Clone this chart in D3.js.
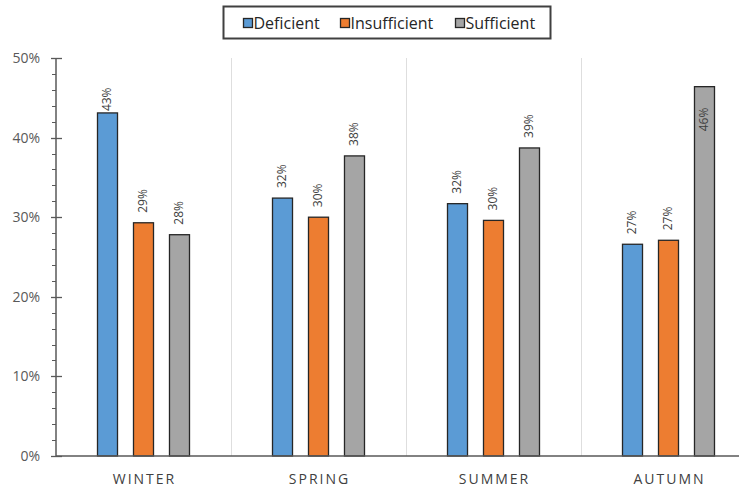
<!DOCTYPE html>
<html>
<head>
<meta charset="utf-8">
<script src="https://cdn.jsdelivr.net/npm/d3@7"></script>
<style>
  html, body { margin: 0; padding: 0; background: #fff; }
  svg { display: block; font-family: "Open Sans", sans-serif; }
</style>
</head>
<body>
<svg id="chart" width="739" height="490"></svg>
<script>
// Seasonal vitamin status shares
const seasons = ["WINTER", "SPRING", "SUMMER", "AUTUMN"];
const seriesNames = ["Deficient", "Insufficient", "Sufficient"];
const deficient = [0.431, 0.324, 0.317, 0.266];
const insufficient = [0.293, 0.300, 0.296, 0.271];
const sufficient = [0.278, 0.377, 0.387, 0.464];
const seriesColors = ["#5b9bd5", "#ed7d31", "#a5a5a5"];
const yTicks = [0, 0.1, 0.2, 0.3, 0.4, 0.5];

const seriesValues = [deficient, insufficient, sufficient];
const rows = seasons.map((s, i) => ({
  season: s,
  values: seriesNames.map((n, k) => ({ name: n, value: seriesValues[k][i], color: seriesColors[k] }))
}));

const svg = d3.select("#chart");
const margin = { left: 56, top: 58, bottom: 34 };
const width = 739, height = 490;
const plotBottom = height - margin.bottom;

const x0 = d3.scaleBand().domain(seasons).range([margin.left, margin.left + 4 * 175]).padding(0);
const x1 = d3.scaleBand().domain(seriesNames).range([-46, 46]).paddingInner(0.444).paddingOuter(0);
const y = d3.scaleLinear().domain([0, 0.5]).range([plotBottom, margin.top]);

// vertical separators between seasons
svg.append("g")
  .selectAll("line")
  .data(seasons.slice(1))
  .join("line")
  .attr("x1", d => x0(d) + 0.5).attr("x2", d => x0(d) + 0.5)
  .attr("y1", margin.top).attr("y2", plotBottom)
  .attr("stroke", "#dedede").attr("stroke-width", 1);

// bars
const groups = svg.append("g")
  .selectAll("g")
  .data(rows)
  .join("g")
  .attr("transform", d => `translate(${x0(d.season) + x0.bandwidth() / 2},0)`);

groups.selectAll("rect")
  .data(d => d.values)
  .join("rect")
  .attr("x", d => x1(d.name))
  .attr("y", d => y(d.value))
  .attr("width", x1.bandwidth())
  .attr("height", d => plotBottom - y(d.value))
  .attr("fill", d => d.color)
  .attr("stroke", "#262626")
  .attr("stroke-width", 1.3);

// value labels, rotated, above each bar (or inside when there is no room)
const labelTopLimit = y(0.463);
groups.selectAll("text.val")
  .data(d => d.values)
  .join("text")
  .attr("class", "val")
  .attr("font-size", 12)
  .attr("fill", "#404040")
  .attr("text-anchor", "start")
  .attr("dominant-baseline", "middle")
  .text(d => d3.format(".0%")(d.value))
  .each(function (d) {
    const len = this.getComputedTextLength();
    const barTop = y(d.value);
    let bottom = barTop - 10;
    if (bottom - len < labelTopLimit) {
      bottom = labelTopLimit + len;
      if (bottom > barTop + 4) bottom = barTop + 21 + len;
    }
    const cx = x1(d.name) + x1.bandwidth() / 2;
    d3.select(this).attr("transform", `translate(${cx},${bottom}) rotate(-90)`);
  });

// y axis
const axisColor = "#595959";
const yAxis = svg.append("g");
yAxis.append("line")
  .attr("x1", margin.left).attr("x2", margin.left)
  .attr("y1", margin.top).attr("y2", plotBottom)
  .attr("stroke", axisColor).attr("stroke-width", 1.5);
yAxis.selectAll("line.minor")
  .data(d3.range(0, 0.5001, 0.02))
  .join("line")
  .attr("class", "minor")
  .attr("x1", margin.left - 4).attr("x2", margin.left)
  .attr("y1", d => Math.round(y(d)) + 0.5).attr("y2", d => Math.round(y(d)) + 0.5)
  .attr("stroke", axisColor).attr("stroke-width", 1);
yAxis.selectAll("line.major")
  .data(yTicks)
  .join("line")
  .attr("class", "major")
  .attr("x1", margin.left - 5).attr("x2", margin.left + 6)
  .attr("y1", d => Math.round(y(d)) + 0.5).attr("y2", d => Math.round(y(d)) + 0.5)
  .attr("stroke", axisColor).attr("stroke-width", 1.3);
yAxis.selectAll("text")
  .data(yTicks)
  .join("text")
  .attr("x", 40)
  .attr("y", d => y(d))
  .attr("dy", "0.35em")
  .attr("text-anchor", "end")
  .attr("font-size", 14)
  .attr("fill", axisColor)
  .text(d => d3.format(".0%")(d));

// x axis
svg.append("line")
  .attr("x1", margin.left).attr("x2", width)
  .attr("y1", plotBottom).attr("y2", plotBottom)
  .attr("stroke", axisColor).attr("stroke-width", 1.5);
svg.append("g")
  .selectAll("text")
  .data(seasons)
  .join("text")
  .attr("x", d => x0(d) + x0.bandwidth() / 2 + 1)
  .attr("y", 484)
  .attr("text-anchor", "middle")
  .attr("font-size", 14)
  .attr("letter-spacing", 2)
  .attr("fill", "#404040")
  .text(d => d);

// legend
const legend = svg.append("g");
legend.append("rect")
  .attr("x", 223.5).attr("y", 6.5).attr("width", 327).attr("height", 32)
  .attr("fill", "#fff").attr("stroke", "#404040").attr("stroke-width", 2);
const legendX = [243, 340, 455];
const items = legend.selectAll("g")
  .data(seriesNames)
  .join("g")
  .attr("transform", (d, i) => `translate(${legendX[i]},0)`);
items.append("rect")
  .attr("x", 0.5).attr("y", 18.5).attr("width", 9).attr("height", 9)
  .attr("fill", (d, i) => seriesColors[i])
  .attr("stroke", "#262626").attr("stroke-width", 1.3);
items.append("text")
  .attr("x", 10.5).attr("y", 28.5)
  .attr("font-size", 16)
  .attr("fill", "#262626")
  .text(d => d);
</script>
</body>
</html>
